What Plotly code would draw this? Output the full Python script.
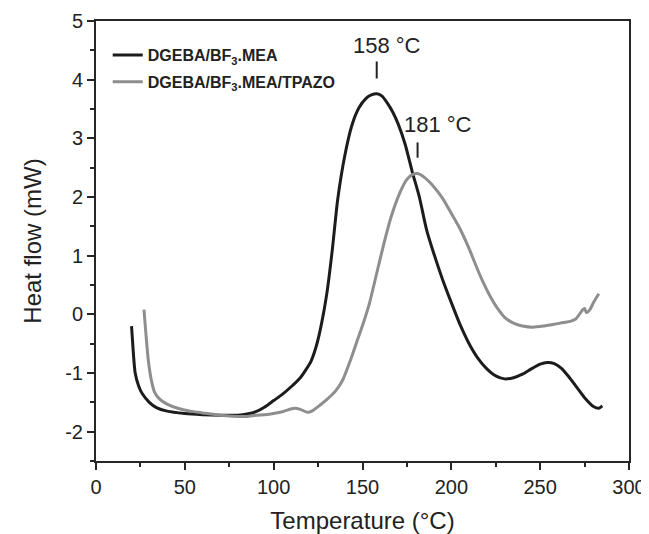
import plotly.graph_objects as go

# DGEBA/BF3.MEA (black)
t_black = [20, 21, 22, 24, 26, 30, 34, 40, 50, 60, 70, 80, 85, 90, 95, 100, 105, 110, 115, 118,
           121, 124, 127, 130, 133, 136, 140, 144, 148, 152, 155, 158, 161, 164, 167, 170, 174,
           178, 182, 186, 190, 195, 200, 205, 210, 215, 220, 225, 230, 235, 240, 245, 250, 254,
           258, 262, 266, 270, 275, 280, 283, 285]
hf_black = [-0.2, -0.65, -0.99, -1.22, -1.35, -1.5, -1.59, -1.65, -1.69, -1.71, -1.72, -1.72, -1.7,
            -1.66, -1.58, -1.47, -1.36, -1.23, -1.08, -0.95, -0.8, -0.54, -0.15, 0.37, 1.1, 1.95,
            2.7, 3.22, 3.52, 3.68, 3.74, 3.76, 3.72, 3.6, 3.45, 3.25, 2.9, 2.43, 2.0, 1.45, 1.05,
            0.6, 0.2, -0.18, -0.5, -0.75, -0.93, -1.05, -1.1, -1.08, -1.02, -0.93, -0.85, -0.82,
            -0.84, -0.92, -1.06, -1.22, -1.42, -1.57, -1.6, -1.56]

# DGEBA/BF3.MEA/TPAZO (gray)
t_gray = [27, 28, 29.4, 31, 33, 36, 40, 46, 53, 60, 70, 80, 85, 90, 95, 100, 105, 110, 112, 115,
          119, 122, 126, 130, 135, 139, 143, 147, 151, 154, 158, 162, 166, 171, 175, 178, 181, 185,
          190, 195, 200, 205, 210, 214, 218, 222, 226, 230, 235, 240, 246, 252, 258, 263, 267, 270,
          274, 275, 276, 278, 280, 283]
hf_gray = [0.08, -0.3, -0.77, -1.1, -1.33, -1.45, -1.53, -1.6, -1.65, -1.68, -1.72, -1.74, -1.74,
           -1.72, -1.71, -1.69, -1.66, -1.61, -1.6, -1.62, -1.67, -1.64, -1.55, -1.45, -1.3, -1.11,
           -0.8, -0.45, -0.1, 0.2, 0.7, 1.2, 1.65, 2.07, 2.3, 2.38, 2.4, 2.33, 2.18, 1.98, 1.72, 1.45,
           1.12, 0.82, 0.54, 0.3, 0.1, -0.05, -0.15, -0.2, -0.22, -0.2, -0.17, -0.14, -0.12, -0.08,
           0.08, 0.1, 0.03, 0.08, 0.2, 0.35]

series_names = ["DGEBA/BF<sub>3</sub>.MEA", "DGEBA/BF<sub>3</sub>.MEA/TPAZO"]
series_colors = ["#1c1c1c", "#8e8e8e"]

peak_T = [158, 181]
peak_labels = ["158 °C", "181 °C"]
peak_tick_y = [(4.02, 4.31), (2.67, 2.93)]
peak_text_pos = [(164, 4.58), (192.7, 3.24)]

x_ticks = [0, 50, 100, 150, 200, 250, 300]
x_ticktext = ["0", "50", "100", "150", "200", "250", "300"]
y_ticks = [-2, -1, 0, 1, 2, 3, 4, 5]
y_ticktext = ["-2", "-1", "0", "1", "2", "3", "4", "5"]

FONT = "Liberation Sans, Arial, sans-serif"
AX = "#262626"

fig = go.Figure()
for i, (t, h, name, col) in enumerate(zip([t_black, t_gray], [hf_black, hf_gray], series_names, series_colors)):
    fig.add_trace(go.Scatter(x=t, y=h, mode="lines", name=name, legendgroup=f"g{i}",
                             line=dict(color=col, width=3, shape="spline", smoothing=0.6)))

for T, lab, (y0, y1), (tx, ty) in zip(peak_T, peak_labels, peak_tick_y, peak_text_pos):
    fig.add_shape(type="line", x0=T, x1=T, y0=y0, y1=y1, line=dict(color="#222", width=2))
    fig.add_annotation(x=tx, y=ty, text=lab, showarrow=False,
                       font=dict(family=FONT, size=22, color="#222"))

axis_common = dict(showline=True, linecolor=AX, linewidth=2, mirror=True, ticks="outside",
                   ticklen=7, tickwidth=2, tickcolor=AX, showgrid=False, zeroline=False,
                   automargin=False,
                   tickfont=dict(family=FONT, size=20, color="#222"),
                   minor=dict(ticks="outside", ticklen=4, tickwidth=2, tickcolor=AX))

fig.update_xaxes(range=[0, 300], tickvals=x_ticks, ticktext=x_ticktext,
                 title=dict(text="Temperature (°C)", font=dict(family=FONT, size=24, color="#222"), standoff=19),
                 **axis_common)
fig.update_xaxes(minor=dict(dtick=25, tick0=0))
fig.update_yaxes(range=[-2.5, 5], tickvals=y_ticks, ticktext=y_ticktext,
                 title=dict(text="Heat flow (mW)", font=dict(family=FONT, size=24, color="#222"), standoff=17),
                 **axis_common)
fig.update_yaxes(minor=dict(dtick=0.5, tick0=0))

# page body has an 8px margin: figure is offset by 8px, so size/margins compensate
fig.update_layout(
    width=641, height=526,
    margin=dict(l=88, r=20, t=13, b=73),
    paper_bgcolor="white", plot_bgcolor="white",
    font=dict(family=FONT, color="#222"),
    legend=dict(x=0.022, y=0.961, xanchor="left", yanchor="top", bgcolor="rgba(0,0,0,0)",
                font=dict(family=FONT, size=16, color="#222", weight="bold"),
                tracegroupgap=3, itemwidth=30),
)

fig.write_html("out.html")
